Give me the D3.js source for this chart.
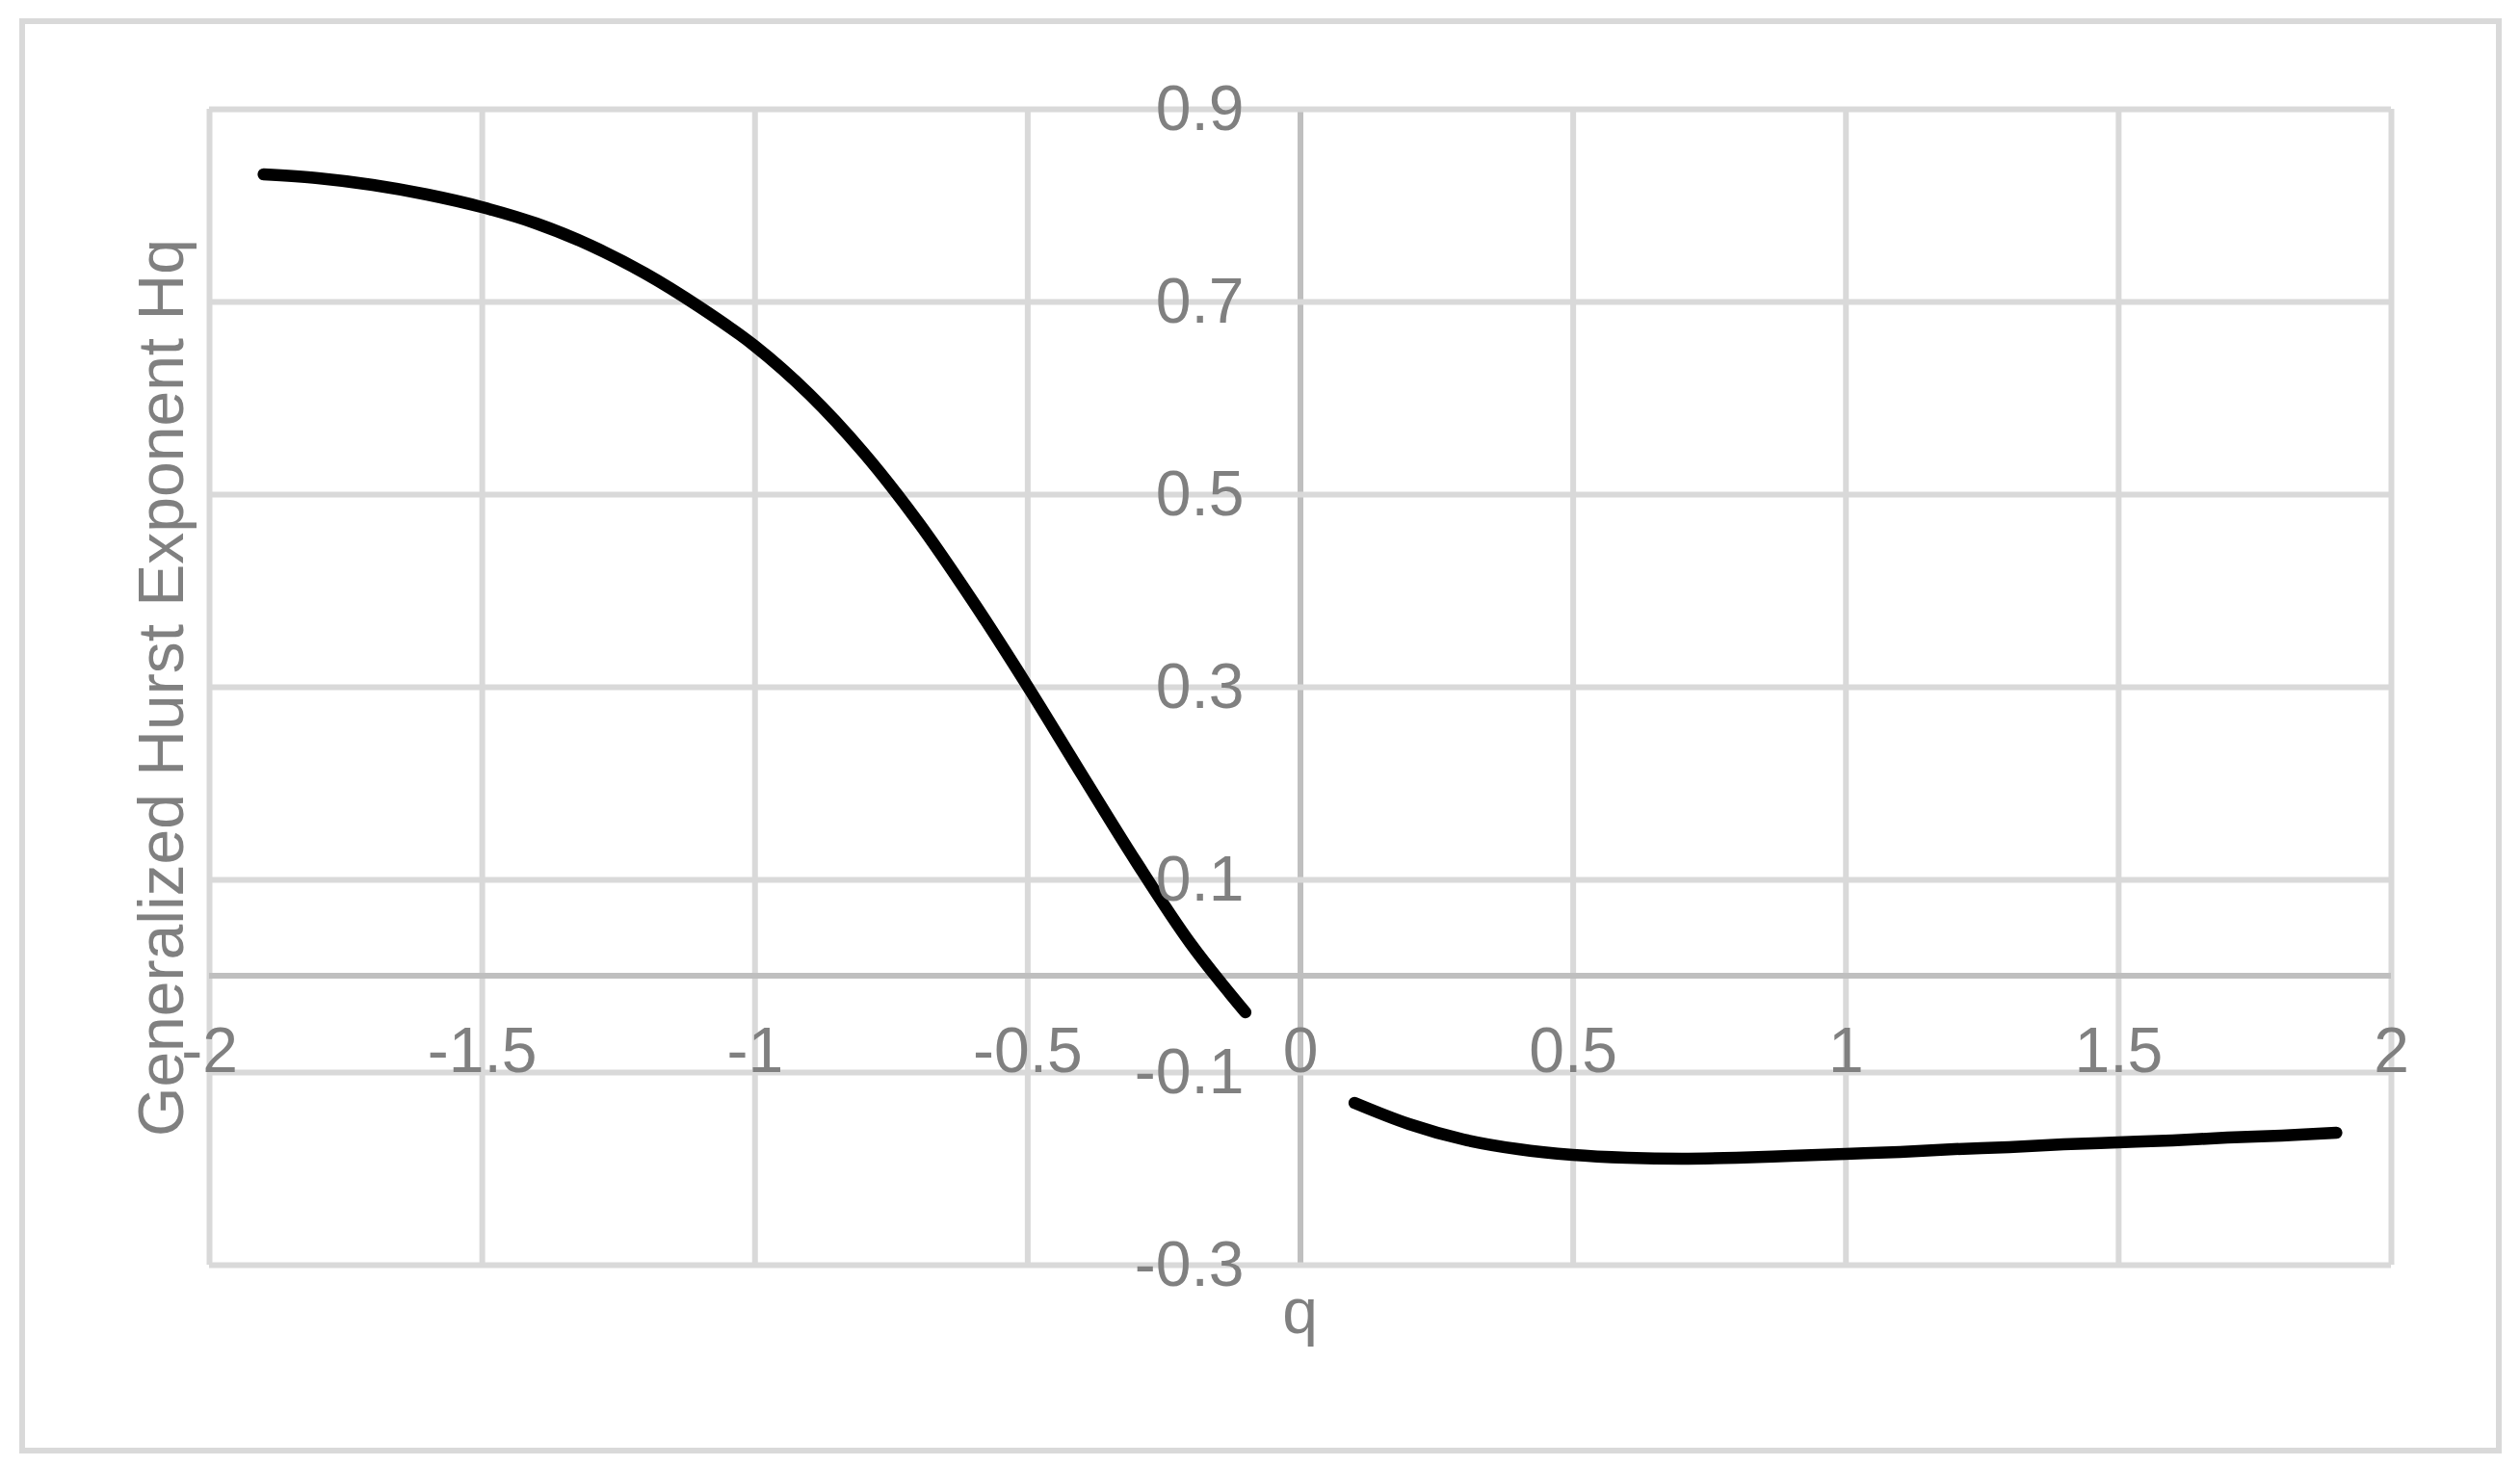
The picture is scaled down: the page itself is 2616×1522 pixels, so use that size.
<!DOCTYPE html>
<html lang="en">
  <head>
    <meta charset="UTF-8" />
    <title>Generalized Hurst Exponent</title>
    <style>
      body {
        margin: 0;
        background: #fff;
      }
      svg {
        display: block;
        font-family: "Liberation Sans", Arial, sans-serif;
      }
      .grid line {
        stroke: #d9d9d9;
        stroke-width: 6;
      }
      .labels text,
      .title {
        font-size: 66px;
        fill: #808080;
      }
      .curve {
        fill: none;
        stroke: #000;
        stroke-width: 12.5;
        stroke-linecap: round;
        stroke-linejoin: round;
      }
    </style>
  </head>
  <body>
    <svg width="2616" height="1522"></svg>
  </body>
  <script src="https://cdn.jsdelivr.net/npm/d3@7"></script>
  <script>
    // values
    const qLeft = [-1.9, -1.8, -1.7, -1.6, -1.5, -1.4, -1.3, -1.2, -1.1, -1.0,
      -0.9, -0.8, -0.7, -0.6, -0.5, -0.4, -0.3, -0.2, -0.1];
    const hLeft = [0.832, 0.828, 0.821, 0.811, 0.798, 0.781, 0.758, 0.729, 0.694, 0.654,
      0.604, 0.543, 0.471, 0.389, 0.301, 0.209, 0.118, 0.033, -0.038];
    const qRight = [0.1, 0.2, 0.3, 0.4, 0.5, 0.6, 0.7, 0.8, 0.9, 1.0,
      1.1, 1.2, 1.3, 1.4, 1.5, 1.6, 1.7, 1.8, 1.9];
    const hRight = [-0.132, -0.154, -0.17, -0.18, -0.186, -0.189, -0.19, -0.189, -0.187, -0.185,
      -0.183, -0.18, -0.178, -0.175, -0.173, -0.171, -0.168, -0.166, -0.163];

    const xTicks = [-2, -1.5, -1, -0.5, 0, 0.5, 1, 1.5, 2];
    const yTicks = [-0.3, -0.1, 0.1, 0.3, 0.5, 0.7, 0.9];

    const svg = d3.select("svg");
    const plotLeft = 217, plotRight = 2482, plotTop = 113, plotBottom = 1313;

    const x = d3.scaleLinear().domain([-2, 2]).range([plotLeft, plotRight]);
    const y = d3.scaleLinear().domain([-0.3, 0.9]).range([plotBottom, plotTop]);

    // chart border
    svg.append("rect")
      .attr("x", 23).attr("y", 22)
      .attr("width", 2571).attr("height", 1484)
      .attr("fill", "none")
      .attr("stroke", "#d9d9d9")
      .attr("stroke-width", 6);

    // gridlines
    const vGrid = svg.append("g")
      .attr("class", "grid")
      .attr("transform", `translate(0,${plotBottom})`)
      .call(d3.axisBottom(x).tickValues(xTicks).tickSize(-(plotBottom - plotTop)).tickFormat(""));
    vGrid.select(".domain").remove();
    vGrid.selectAll(".tick line").filter((d) => d === 0).style("stroke", "#bfbfbf");

    const hGrid = svg.append("g")
      .attr("class", "grid")
      .attr("transform", `translate(${plotLeft},0)`)
      .call(d3.axisLeft(y).tickValues(yTicks).tickSize(-(plotRight - plotLeft)).tickFormat(""));
    hGrid.select(".domain").remove();

    // horizontal axis line at H = 0
    svg.append("line")
      .attr("x1", plotLeft).attr("x2", plotRight)
      .attr("y1", y(0)).attr("y2", y(0))
      .attr("stroke", "#bfbfbf")
      .attr("stroke-width", 6);

    // the two branches
    const line = d3.line()
      .x((d) => x(d[0]))
      .y((d) => y(d[1]))
      .curve(d3.curveCatmullRom.alpha(0.5));

    svg.append("path")
      .attr("class", "curve")
      .attr("d", line(d3.zip(qLeft, hLeft)));
    svg.append("path")
      .attr("class", "curve")
      .attr("d", line(d3.zip(qRight, hRight)));

    // tick labels, placed against the axes that cross at zero
    const xLabels = svg.append("g")
      .attr("class", "labels")
      .attr("transform", `translate(0,${y(0)})`)
      .call(d3.axisBottom(x).tickValues(xTicks).tickSize(0).tickPadding(53).tickFormat((d) => String(d)));
    const yLabels = svg.append("g")
      .attr("class", "labels")
      .attr("transform", `translate(${x(0)},0)`)
      .call(d3.axisLeft(y).tickValues(yTicks).tickSize(0).tickPadding(58).tickFormat((d) => String(d)));
    for (const g of [xLabels, yLabels]) {
      g.select(".domain").remove();
      g.attr("font-size", null).attr("font-family", null);
      g.selectAll("text").attr("fill", null);
    }

    // axis titles
    svg.append("text")
      .attr("class", "title")
      .attr("x", x(0))
      .attr("y", 1384)
      .attr("text-anchor", "middle")
      .text("q");

    svg.append("text")
      .attr("class", "title")
      .attr("transform", "translate(190,714) rotate(-90)")
      .attr("text-anchor", "middle")
      .text("Generalized Hurst Exponent Hq");
  </script>
</html>
